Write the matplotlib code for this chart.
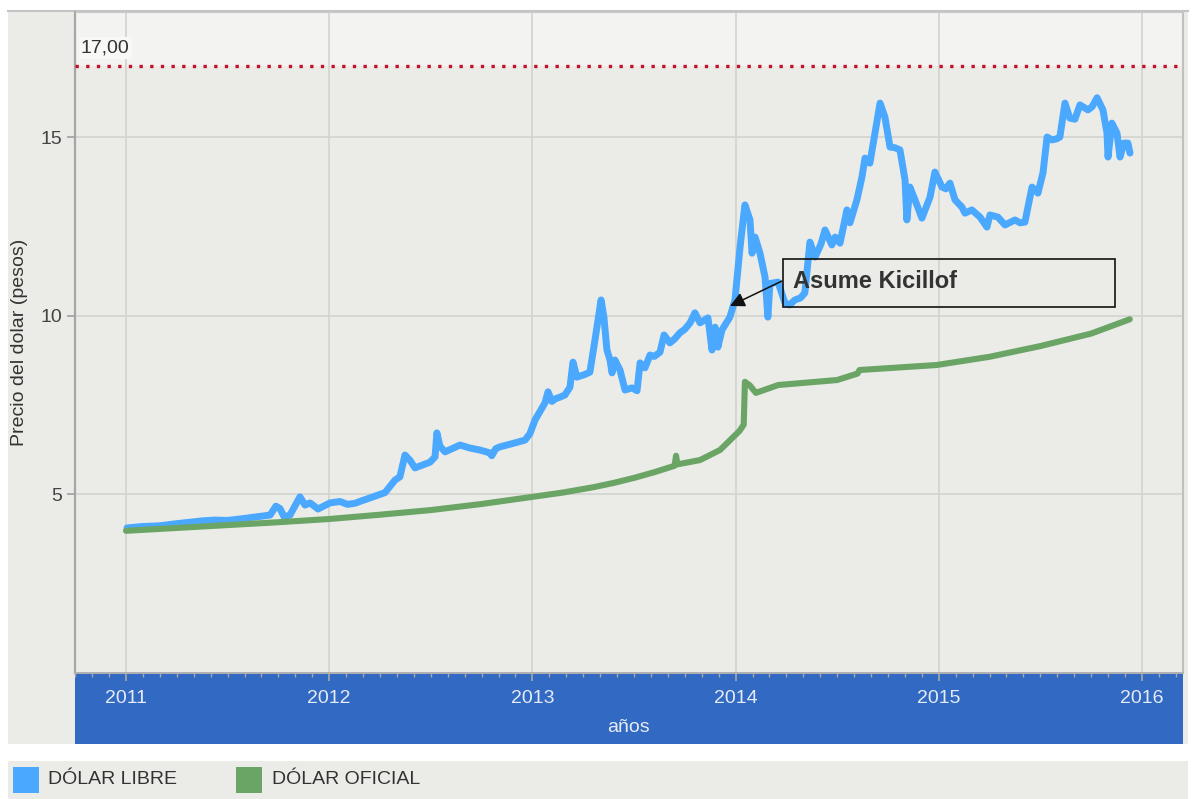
import matplotlib
matplotlib.use("Agg")
import matplotlib.pyplot as plt
from matplotlib.patches import Rectangle
from matplotlib.ticker import MultipleLocator, FixedLocator

plt.rcParams['font.family'] = ['Liberation Sans', 'DejaVu Sans']

# ---------------- data ----------------
years = [2011, 2012, 2013, 2014, 2015, 2016]
y_ticks = [5, 10, 15]

libre_t = [2011.005, 2011.080, 2011.167, 2011.250, 2011.315, 2011.380, 2011.438, 2011.500,
           2011.561, 2011.630, 2011.709, 2011.738, 2011.758, 2011.778, 2011.807, 2011.856,
           2011.881, 2011.906, 2011.945, 2012.004, 2012.053, 2012.090, 2012.127, 2012.160,
           2012.201, 2012.275, 2012.324, 2012.348, 2012.373, 2012.398, 2012.422, 2012.496,
           2012.521, 2012.530, 2012.545, 2012.570, 2012.644, 2012.690, 2012.742, 2012.791,
           2012.800, 2012.820, 2012.841, 2012.914, 2012.964, 2012.988, 2013.013, 2013.062,
           2013.077, 2013.096, 2013.115, 2013.135, 2013.160, 2013.185, 2013.200, 2013.219,
           2013.240, 2013.260, 2013.283, 2013.308, 2013.338, 2013.352, 2013.367, 2013.382,
           2013.392, 2013.406, 2013.431, 2013.456, 2013.490, 2013.515, 2013.530, 2013.554,
           2013.579, 2013.600, 2013.628, 2013.648, 2013.677, 2013.700, 2013.726, 2013.750,
           2013.776, 2013.800, 2013.825, 2013.864, 2013.884, 2013.899, 2013.913, 2013.933,
           2013.972, 2013.997, 2014.022, 2014.046, 2014.071, 2014.081, 2014.096, 2014.120,
           2014.145, 2014.159, 2014.169, 2014.209, 2014.243, 2014.265, 2014.292, 2014.320,
           2014.341, 2014.366, 2014.391, 2014.420, 2014.440, 2014.474, 2014.490, 2014.514,
           2014.548, 2014.563, 2014.597, 2014.622, 2014.637, 2014.661, 2014.686, 2014.711,
           2014.735, 2014.760, 2014.785, 2014.809, 2014.834, 2014.843, 2014.858, 2014.883,
           2014.917, 2014.957, 2014.981, 2015.016, 2015.035, 2015.055, 2015.080, 2015.114,
           2015.129, 2015.163, 2015.203, 2015.237, 2015.252, 2015.291, 2015.326, 2015.375,
           2015.400, 2015.424, 2015.439, 2015.459, 2015.488, 2015.513, 2015.533, 2015.557,
           2015.580, 2015.596, 2015.621, 2015.645, 2015.670, 2015.695, 2015.734, 2015.755,
           2015.779, 2015.808, 2015.828, 2015.833, 2015.852, 2015.877, 2015.892, 2015.911,
           2015.931, 2015.941]
libre_v = [4.06, 4.10, 4.12, 4.18, 4.22, 4.26, 4.28, 4.27,
           4.31, 4.36, 4.42, 4.67, 4.60, 4.37, 4.42, 4.93,
           4.70, 4.76, 4.59, 4.76, 4.80, 4.72, 4.75, 4.82,
           4.90, 5.05, 5.40, 5.49, 6.10, 5.95, 5.74, 5.90,
           6.05, 6.72, 6.35, 6.19, 6.38, 6.30, 6.24, 6.16,
           6.08, 6.28, 6.33, 6.44, 6.52, 6.70, 7.08, 7.56,
           7.87, 7.60, 7.68, 7.72, 7.78, 8.00, 8.70, 8.28,
           8.32, 8.36, 8.42, 9.32, 10.44, 9.96, 9.04, 8.76,
           8.40, 8.76, 8.48, 7.92, 7.98, 7.90, 8.68, 8.54,
           8.90, 8.86, 8.98, 9.46, 9.24, 9.35, 9.52, 9.62,
           9.80, 10.08, 9.80, 9.94, 9.04, 9.68, 9.12, 9.60,
           9.96, 10.44, 11.92, 13.10, 12.68, 11.75, 12.20, 11.75,
           11.08, 9.96, 10.90, 10.94, 10.36, 10.30, 10.44, 10.50,
           10.64, 12.06, 11.64, 12.00, 12.40, 11.98, 12.20, 12.03,
           12.96, 12.60, 13.24, 13.88, 14.41, 14.27, 15.11, 15.95,
           15.56, 14.72, 14.70, 14.64, 13.80, 12.68, 13.60, 13.24,
           12.73, 13.32, 14.02, 13.60, 13.55, 13.71, 13.24, 13.04,
           12.87, 12.96, 12.76, 12.48, 12.82, 12.76, 12.54, 12.68,
           12.60, 12.62, 13.04, 13.60, 13.43, 14.00, 15.00, 14.92,
           14.95, 15.00, 15.95, 15.53, 15.50, 15.90, 15.76, 15.85,
           16.10, 15.76, 15.11, 14.44, 15.39, 15.11, 14.44, 14.83,
           14.83, 14.55]

oficial_t = [2011.000, 2011.250, 2011.500, 2011.750, 2012.000, 2012.250, 2012.500,
             2012.750, 2013.000, 2013.150, 2013.300, 2013.400, 2013.500, 2013.600,
             2013.700, 2013.707, 2013.714, 2013.825, 2013.923, 2013.970, 2014.020,
             2014.040, 2014.046, 2014.070, 2014.100, 2014.210, 2014.500, 2014.600,
             2014.610, 2014.800, 2014.990, 2015.250, 2015.500, 2015.750, 2015.940]
oficial_v = [3.98, 4.06, 4.14, 4.22, 4.31, 4.43, 4.56,
             4.73, 4.93, 5.05, 5.20, 5.32, 5.46, 5.62,
             5.80, 6.08, 5.84, 5.96, 6.24, 6.50, 6.78,
             6.95, 8.15, 8.05, 7.84, 8.06, 8.20, 8.38,
             8.48, 8.55, 8.62, 8.85, 9.15, 9.50, 9.90]

limit_value = 17.0
annot_text = "Asume Kicillof"

# ---------------- figure ----------------
W, H = 1193, 799
fig = plt.figure(figsize=(W / 100, H / 100), dpi=100)
fig.patch.set_facecolor('white')


def fx(px):
    return px / W


def fy(py):
    return 1 - py / H


def frect(x0, y0, x1, y1, **kw):
    r = Rectangle((fx(x0), fy(y1)), fx(x1) - fx(x0), fy(y0) - fy(y1),
                  transform=fig.transFigure, **kw)
    fig.patches.append(r)
    return r


BG = '#ebece7'
frect(8, 11, 1188, 744, facecolor=BG, edgecolor='none', zorder=-10)
fig.add_artist(plt.Line2D([fx(8), fx(1188)], [fy(11), fy(11)], color='#c4c4c4', lw=1.5,
                          transform=fig.transFigure, zorder=-9))
frect(75, 673, 1183, 744, facecolor='#3169c3', edgecolor='none', zorder=-8)
frect(8, 761, 1188, 799, facecolor=BG, edgecolor='none', zorder=-8)

ax = fig.add_axes([fx(75), fy(673), fx(1183) - fx(75), fy(12) - fy(673)])
ax.set_facecolor(BG)
ax.set_xlim(2010.749, 2016.202)
ax.set_ylim(0, 18.5)
ax.axhspan(limit_value, 18.5, color='#f3f3f2', zorder=0, lw=0)

ax.xaxis.set_major_locator(FixedLocator(years))
ax.set_xticklabels([str(y) for y in years])
ax.xaxis.set_minor_locator(MultipleLocator(1 / 12))
ax.yaxis.set_major_locator(FixedLocator(y_ticks))
ax.set_yticklabels([str(v) for v in y_ticks])
ax.grid(True, which='major', color='#d2d3cf', lw=1.2, zorder=0)
ax.set_axisbelow(True)

ax.tick_params(axis='x', which='major', direction='out', length=6, width=1.2,
               color='#a8a8a8', labelcolor='#e6ebf5', labelsize=14, pad=6)
ax.tick_params(axis='x', which='minor', direction='out', length=3, width=1,
               color='#a8a8a8')
ax.tick_params(axis='y', which='major', direction='out', length=6, width=1.2,
               color='#a0a0a0', labelcolor='#444444', labelsize=14, pad=3)

ax.spines['left'].set_color('#a6a6a6')
ax.spines['left'].set_linewidth(1.6)
ax.spines['bottom'].set_color('#b0b0b0')
ax.spines['bottom'].set_linewidth(1.4)
ax.spines['top'].set_color('#c8c8c8')
ax.spines['right'].set_color('#c0c0c0')
ax.spines['right'].set_linewidth(1.5)

# limit line
ax.axhline(limit_value, color='#c2122d', lw=2.4, ls=(0, (1, 2.2)), zorder=3)
fig.text(fx(81), fy(48), "17,00", fontsize=14, color='#333333', va='center', ha='left',
         bbox=dict(facecolor='#f8f8f6', edgecolor='none', pad=1.5))

# series
ax.plot(libre_t, libre_v, color='#4aa8ff', lw=5, solid_joinstyle='round',
        solid_capstyle='round', zorder=4)
ax.plot(oficial_t, oficial_v, color='#6aa566', lw=4.4, solid_joinstyle='round',
        solid_capstyle='round', zorder=5)


# annotation (pixel positions converted to data coordinates)
def dx(px):
    return 2011 + (px - 126) / 203.2


def dy(py):
    return (673 - py) / 35.73


ax.add_patch(Rectangle((dx(783), dy(307)), dx(1115) - dx(783), dy(259) - dy(307),
                       facecolor='none', edgecolor='#111111', lw=1.2, zorder=6))
ax.text(dx(793), dy(281), annot_text, fontsize=17, fontweight='bold', color='#333333',
        va='center', ha='left', zorder=7)
ax.annotate('', xy=(dx(730), dy(306)), xytext=(dx(782), dy(281)),
            arrowprops=dict(arrowstyle='-|>', color='#111111', lw=1.1,
                            mutation_scale=22, shrinkA=0, shrinkB=0), zorder=7)

# labels
fig.text(fx(20), fy(342), "Precio del dolar (pesos)", rotation=90, fontsize=14,
         color='#333333', ha='center', va='center')
fig.text(fx(628), fy(727), "años", fontsize=14, color='#e6ebf5', ha='center', va='center')

# legend
frect(13, 767, 39, 793, facecolor='#4aa8ff', edgecolor='none', zorder=-7)
fig.text(fx(48), fy(780), "DÓLAR LIBRE", fontsize=14, color='#333333', va='center')
frect(236, 767, 262, 793, facecolor='#6aa566', edgecolor='none', zorder=-7)
fig.text(fx(272), fy(780), "DÓLAR OFICIAL", fontsize=14, color='#333333', va='center')

fig.savefig('out.png', dpi=100, facecolor='white')
